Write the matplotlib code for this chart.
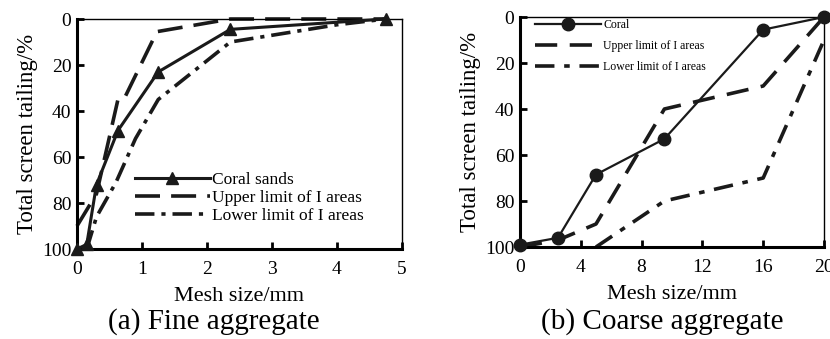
import matplotlib
matplotlib.use('Agg')
import matplotlib.pyplot as plt

plt.rcParams['font.family'] = ['Liberation Serif', 'DejaVu Serif']
plt.rcParams['lines.scale_dashes'] = False

# (a) fine aggregate
fine_coral_x = [0, 0.15, 0.3, 0.63, 1.25, 2.36, 4.75]
fine_coral_y = [100, 98, 72, 48.5, 23, 4.5, 0]
fine_upper_x = [0, 0.3, 0.63, 0.72, 1.23, 2.36, 4.75]
fine_upper_y = [90, 76, 35, 35, 5.5, 0, 0]
fine_lower_x = [0.15, 0.3, 0.6, 0.9, 1.25, 2.36, 4.0, 4.75]
fine_lower_y = [100, 86, 71, 52, 35, 10, 2.5, 0]

# (b) coarse aggregate
coarse_coral_x = [0, 2.5, 5, 9.5, 16, 20]
coarse_coral_y = [99, 96, 68.5, 53, 5.5, 0]
coarse_upper_x = [0, 2.5, 5, 9.5, 16, 20]
coarse_upper_y = [100, 97, 90, 40, 30, 0]
coarse_lower_x = [5, 9.5, 16, 20]
coarse_lower_y = [100, 80, 70, 10]

fig = plt.figure(figsize=(8.3, 3.39), dpi=100)
ax1 = fig.add_axes([77 / 830, 1 - 249 / 339, 325 / 830, 230 / 339])
ax2 = fig.add_axes([520 / 830, 1 - 247 / 339, 304 / 830, 230 / 339])


def style_axes(ax, xticks):
    ax.set_ylim(100, 0)
    ax.set_yticks([0, 20, 40, 60, 80, 100])
    ax.set_xticks(xticks)
    ax.set_xlim(xticks[0], xticks[-1])
    ax.tick_params(direction='in', length=5, width=2, labelsize=14,
                   top=False, right=False)
    ax.tick_params(axis='x', pad=9)
    ax.tick_params(axis='y', pad=4)
    for side in ['left', 'bottom']:
        ax.spines[side].set_linewidth(2.2)
    for side in ['top', 'right']:
        ax.spines[side].set_linewidth(1.0)
    ax.set_xlabel('Mesh size/mm', fontsize=16, labelpad=6)
    ax.set_ylabel('Total screen tailing/%', fontsize=16.5, labelpad=3)


# fine aggregate
ax1.plot(fine_coral_x, fine_coral_y, color='#1a1a1a', lw=2.2, marker='^',
         ms=9, clip_on=False, label='Coral sands', zorder=4)
ax1.plot(fine_upper_x, fine_upper_y, color='#1a1a1a', lw=2.6,
         ls=(0, (18, 8)), clip_on=False, label='Upper limit of I areas')
ax1.plot(fine_lower_x, fine_lower_y, color='#1a1a1a', lw=2.6,
         ls=(0, (14, 5, 3, 5)), clip_on=False, label='Lower limit of I areas')
style_axes(ax1, [0, 1, 2, 3, 4, 5])
ax1.legend(loc='upper left', bbox_to_anchor=(135 / 830, 1 - 172 / 339),
           bbox_transform=fig.transFigure, frameon=False, fontsize=12.5,
           handlelength=4.3, handletextpad=0.15, labelspacing=0.1,
           borderpad=0, borderaxespad=0)

# coarse aggregate
ax2.plot(coarse_coral_x, coarse_coral_y, color='#1a1a1a', lw=1.6, marker='o',
         ms=9, clip_on=False, label='Coral', zorder=4)
ax2.plot(coarse_upper_x, coarse_upper_y, color='#1a1a1a', lw=2.6,
         ls=(0, (16, 9)), clip_on=False, label='Upper limit of I areas')
ax2.plot(coarse_lower_x, coarse_lower_y, color='#1a1a1a', lw=2.6,
         ls=(0, (14, 7, 4, 7)), clip_on=False, label='Lower limit of I areas')
style_axes(ax2, [0, 4, 8, 12, 16, 20])
ax2.legend(loc='upper left', bbox_to_anchor=(535 / 830, 1 - 19 / 339),
           bbox_transform=fig.transFigure, frameon=False, fontsize=8.5,
           handlelength=5.6, handletextpad=0.2, labelspacing=0.75,
           borderpad=0, borderaxespad=0)

fig.text(214 / 830, 1 - 322 / 339, '(a) Fine aggregate', fontsize=21,
         ha='center', va='center')
fig.text(662 / 830, 1 - 322 / 339, '(b) Coarse aggregate', fontsize=21,
         ha='center', va='center')

fig.savefig('out.png', dpi=100)
